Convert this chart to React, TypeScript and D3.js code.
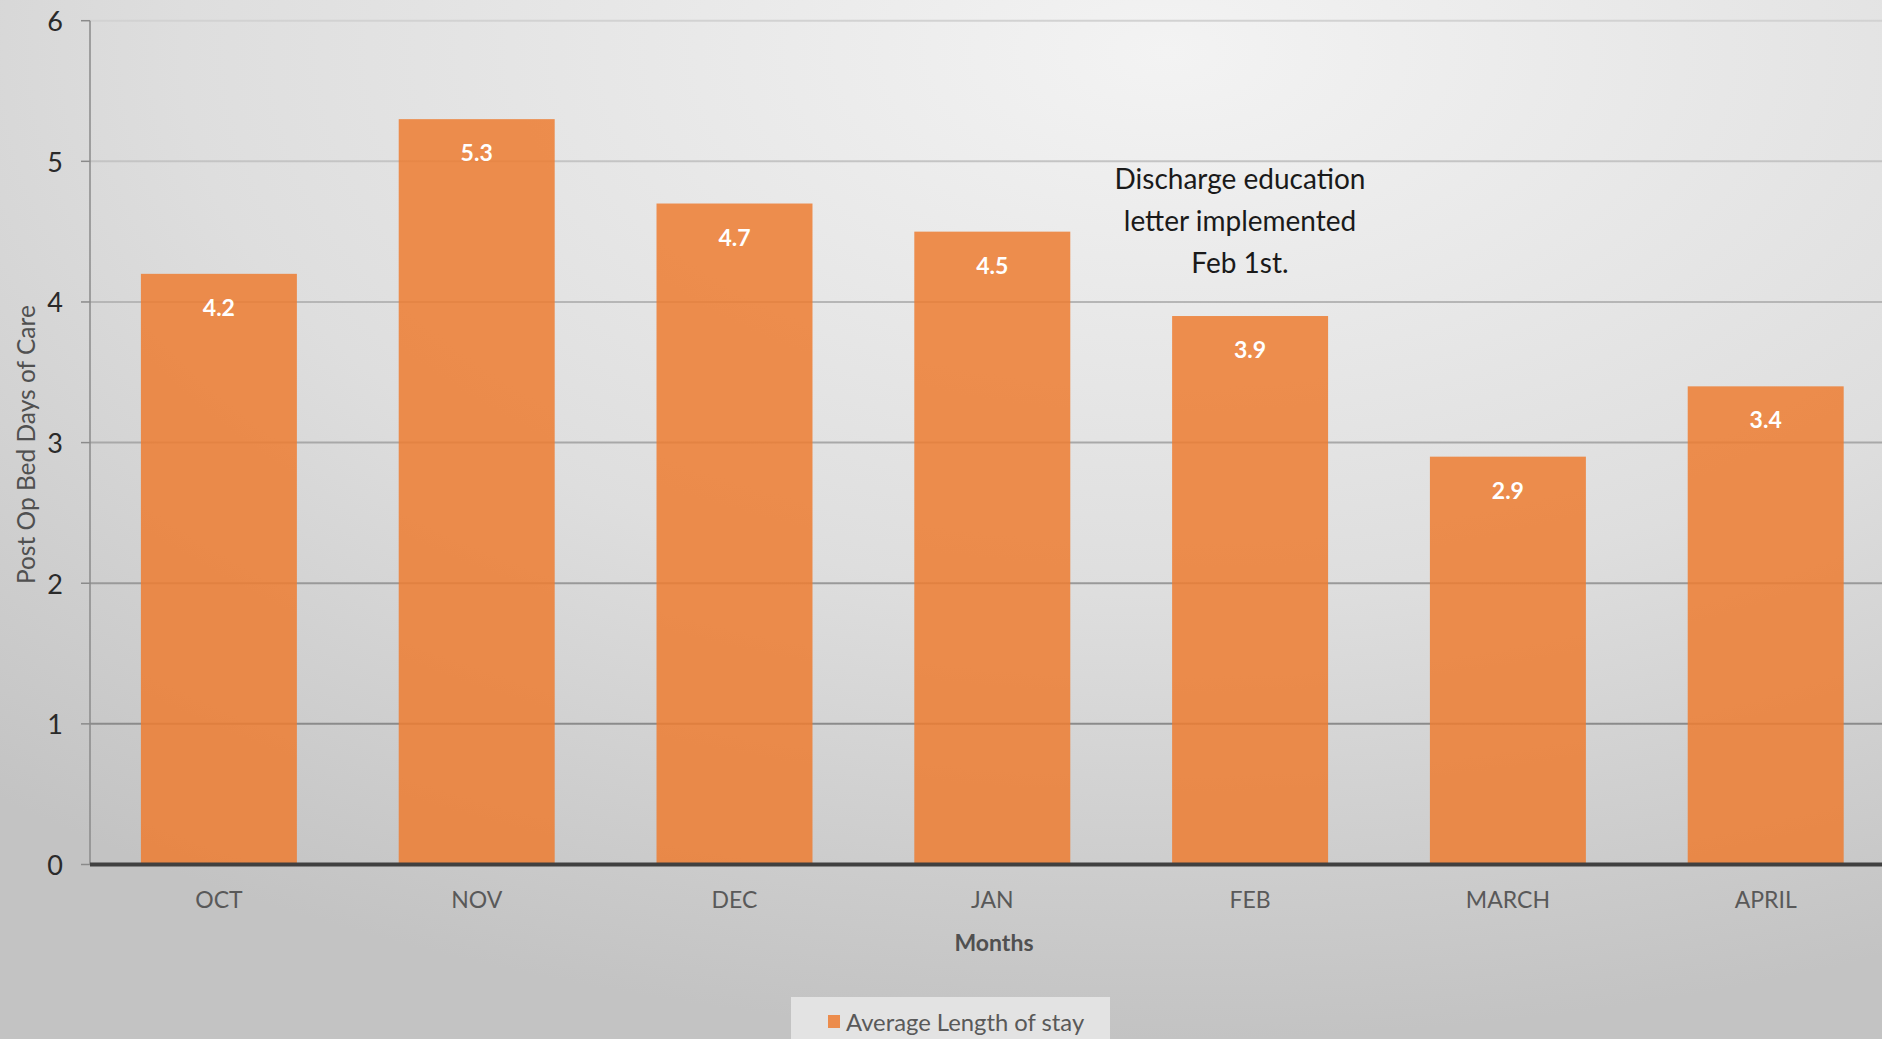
import React, { useEffect } from "react";
import * as d3 from "d3";

const months = ["OCT", "NOV", "DEC", "JAN", "FEB", "MARCH", "APRIL"];
const avgStay = [4.2, 5.3, 4.7, 4.5, 3.9, 2.9, 3.4];
const yTicks = [0, 1, 2, 3, 4, 5, 6];
const annotationLines = ["Discharge education", "letter implemented", "Feb 1st."];
const seriesName = "Average Length of stay";
const xTitle = "Months";
const yTitle = "Post Op Bed Days of Care";

const W = 1882;
const H = 1039;
const FONT = "Lato, 'Open Sans', sans-serif";

export default function App() {
  useEffect(() => {
    document.body.style.margin = "0";
  }, []);

  const x0 = 90;
  const step = 257.8;
  const x = d3
    .scaleBand<string>()
    .domain(months)
    .range([x0, x0 + step * months.length])
    .paddingInner(0.395)
    .paddingOuter(0.1975);
  const y = d3.scaleLinear().domain([0, 6]).range([864.5, 20.7]);

  return (
    <svg width={W} height={H} style={{ display: "block" }}>
      <defs>
        <radialGradient id="bg" cx="0.62" cy="0.05" r="0.95" fx="0.62" fy="0.05">
          <stop offset="0" stopColor="#f3f3f3" />
          <stop offset="0.55" stopColor="#dedede" />
          <stop offset="1" stopColor="#c3c3c3" />
        </radialGradient>
        <linearGradient id="grid" gradientUnits="userSpaceOnUse" x1="0" y1={y(6)} x2="0" y2={y(0)}>
          <stop offset="0" stopColor="#d2d2d2" />
          <stop offset="0.5" stopColor="#a8a8a8" />
          <stop offset="1" stopColor="#7c7c7c" />
        </linearGradient>
      </defs>
      <rect x={0} y={0} width={W} height={H} fill="url(#bg)" />

      {/* gridlines */}
      {yTicks
        .filter((t) => t > 0)
        .map((t) => (
          <line key={"g" + t} x1={x0} x2={W} y1={y(t)} y2={y(t)} stroke="url(#grid)" strokeWidth={2} />
        ))}

      {/* y axis line and ticks */}
      <line x1={x0} x2={x0} y1={y(6)} y2={y(0)} stroke="#8a8a8a" strokeWidth={1.5} />
      {yTicks.map((t) => (
        <g key={"t" + t}>
          <line x1={x0 - 9} x2={x0} y1={y(t)} y2={y(t)} stroke="#8a8a8a" strokeWidth={1.5} />
          <text
            x={63}
            y={y(t)}
            textAnchor="end"
            dominantBaseline="central"
            fontFamily={FONT}
            fontSize={27}
            fill="#2a2a2a"
          >
            {t}
          </text>
        </g>
      ))}

      {/* bars */}
      {months.map((m, i) => (
        <rect
          key={"b" + m}
          x={x(m)!}
          y={y(avgStay[i])}
          width={x.bandwidth()}
          height={y(0) - y(avgStay[i])}
          fill="#ed7d31"
          fillOpacity={0.85}
        />
      ))}

      {/* data labels */}
      {months.map((m, i) => (
        <text
          key={"l" + m}
          x={x(m)! + x.bandwidth() / 2}
          y={y(avgStay[i]) + 33}
          textAnchor="middle"
          dominantBaseline="central"
          fontFamily={FONT}
          fontWeight="bold"
          fontSize={23}
          fill="#ffffff"
        >
          {avgStay[i].toFixed(1)}
        </text>
      ))}

      {/* baseline */}
      <line x1={x0} x2={W} y1={y(0)} y2={y(0)} stroke="#404040" strokeWidth={4} />

      {/* category labels */}
      {months.map((m) => (
        <text
          key={"c" + m}
          x={x(m)! + x.bandwidth() / 2}
          y={899}
          textAnchor="middle"
          dominantBaseline="central"
          fontFamily={FONT}
          fontSize={23}
          fill="#595959"
        >
          {m}
        </text>
      ))}

      {/* axis titles */}
      <text
        x={994}
        y={942}
        textAnchor="middle"
        dominantBaseline="central"
        fontFamily={FONT}
        fontWeight="bold"
        fontSize={23}
        fill="#505050"
      >
        {xTitle}
      </text>
      <text
        transform={`translate(25, ${(y(6) + y(0)) / 2 + 2}) rotate(-90)`}
        textAnchor="middle"
        dominantBaseline="central"
        fontFamily={FONT}
        fontSize={24.5}
        fill="#505050"
      >
        {yTitle}
      </text>

      {/* annotation */}
      {annotationLines.map((line, i) => (
        <text
          key={"a" + i}
          x={1240}
          y={178 + i * 42}
          textAnchor="middle"
          dominantBaseline="central"
          fontFamily={FONT}
          fontSize={28}
          fill="#1a1a1a"
        >
          {line}
        </text>
      ))}

      {/* legend */}
      <rect x={791} y={997} width={319} height={H - 997} fill="#e3e3e3" />
      <rect x={828} y={1015} width={12} height={13} fill="#ed7d31" fillOpacity={0.85} />
      <text
        x={846}
        y={1022}
        dominantBaseline="central"
        fontFamily={FONT}
        fontSize={23.8}
        fill="#595959"
      >
        {seriesName}
      </text>
    </svg>
  );
}
